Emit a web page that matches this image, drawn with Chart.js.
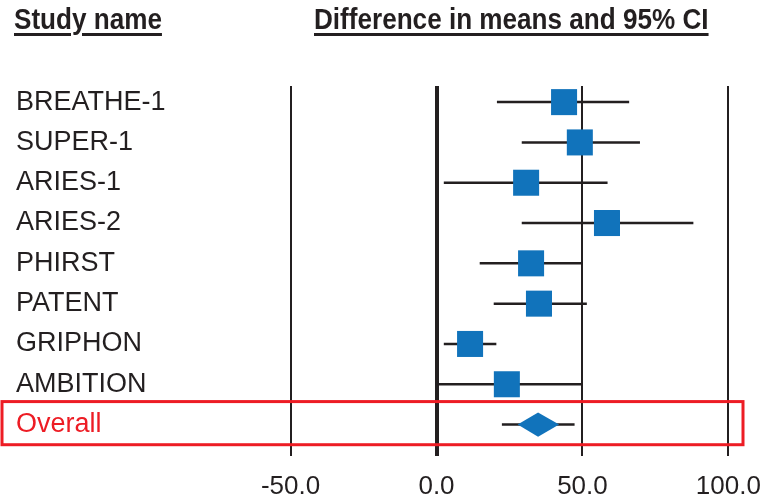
<!DOCTYPE html>
<html>
<head>
<meta charset="utf-8">
<script src="https://cdn.jsdelivr.net/npm/chart.js@4"></script>
<style>
  html, body { margin: 0; padding: 0; background: #fff; }
  #wrap { position: relative; width: 766px; height: 502px; overflow: hidden; }
  .head {
    position: absolute; top: 3px;
    font-family: 'Liberation Sans Narrow', 'Arial Narrow', 'Liberation Sans', Arial, sans-serif;
    font-weight: bold; font-size: 29px; line-height: 32px; color: #231f20;
    text-decoration: underline; text-decoration-thickness: 2.5px; text-underline-offset: 4px;
    white-space: nowrap;
    transform: scaleX(0.9); transform-origin: left top;
  }
</style>
</head>
<body>
<div id="wrap">
  <canvas id="forest" width="766" height="502"></canvas>
  <div class="head" style="left:14px">Study name</div>
  <div class="head" style="left:314px">Difference in means and 95% CI</div>
</div>
<script>
const studies = ['BREATHE-1', 'SUPER-1', 'ARIES-1', 'ARIES-2', 'PHIRST', 'PATENT', 'GRIPHON', 'AMBITION'];
const means = [43.7, 49.1, 30.7, 58.4, 32.4, 35.1, 11.5, 24.1];
const lower = [20.7, 29.2, 2.5, 29.2, 14.8, 19.6, 2.5, 0.6];
const upper = [66.0, 69.7, 58.6, 88.0, 50.0, 51.5, 20.5, 50.0];

const overallLabel = 'Overall';
const overallMean = 34.8;
const overallCI = [27.8, 42.0];   // diamond
const overallPI = [22.4, 47.3];   // thin line through the diamond

const xTicks = [-50, 0, 50, 100];

const rowLabels = studies.concat([overallLabel]);
const overallRow = studies.length;

const dark = '#231f20';
const blue = '#1173bb';
const red = '#ed1c24';
const font = "'Liberation Sans Narrow', 'Arial Narrow', 'Liberation Sans', Arial, sans-serif";

// whiskers, one segment per row, split by null points
const whiskers = [];
studies.forEach((s, i) => {
  whiskers.push({x: lower[i], y: i}, {x: upper[i], y: i}, {x: null, y: null});
});
whiskers.push({x: overallPI[0], y: overallRow}, {x: overallPI[1], y: overallRow});

const squares = means.map((m, i) => ({x: m, y: i}));

const dh = 0.3; // half height of the diamond, in rows
const diamond = [
  {x: overallCI[0], y: overallRow},
  {x: overallMean, y: overallRow - dh},
  {x: overallCI[1], y: overallRow},
  {x: overallMean, y: overallRow + dh},
  {x: overallCI[0], y: overallRow}
];

// red frame round the overall row
const overallBox = {
  id: 'overallBox',
  afterDatasetsDraw(chart) {
    const {ctx, scales: {x, y}} = chart;
    const top = y.getPixelForValue(overallRow - 0.57);
    const bottom = y.getPixelForValue(overallRow + 0.5);
    const right = x.getPixelForValue(105);
    ctx.save();
    ctx.strokeStyle = red;
    ctx.lineWidth = 3;
    ctx.strokeRect(2, top, right - 2, bottom - top);
    ctx.restore();
  }
};

Chart.defaults.font.family = font;
Chart.defaults.color = dark;

new Chart(document.getElementById('forest'), {
  type: 'line',
  data: {
    datasets: [
      {
        label: 'Studies',
        type: 'scatter',
        data: squares,
        pointStyle: 'rect',
        pointRadius: 18.4,
        pointHoverRadius: 18.4,
        backgroundColor: blue,
        borderWidth: 0,
        order: 1
      },
      {
        label: 'Overall',
        data: diamond,
        borderWidth: 0,
        borderColor: blue,
        backgroundColor: blue,
        pointRadius: 0,
        fill: 'shape',
        tension: 0,
        order: 2
      },
      {
        label: 'CI',
        data: whiskers,
        borderColor: dark,
        borderWidth: 2.5,
        pointRadius: 0,
        spanGaps: false,
        fill: false,
        tension: 0,
        order: 3
      }
    ]
  },
  options: {
    responsive: false,
    animation: false,
    layout: { padding: { left: 16, right: 23, top: 86, bottom: 0 } },
    plugins: { legend: { display: false }, tooltip: { enabled: false } },
    scales: {
      x: {
        type: 'linear',
        min: -91.3,
        max: 105,
        afterBuildTicks: s => { s.ticks = xTicks.map(v => ({value: v})); },
        afterFit: s => { s.height = 46; s.paddingLeft = 0; s.paddingRight = 0; },
        border: { display: false },
        grid: {
          drawTicks: false,
          color: dark,
          lineWidth: c => (c.tick && c.tick.value === 0 ? 4 : 2)
        },
        ticks: {
          padding: 15,
          font: { size: 26 },
          color: dark,
          callback: v => v.toFixed(1)
        }
      },
      y: {
        type: 'linear',
        reverse: true,
        min: -0.4,
        max: 8.78,
        afterBuildTicks: s => { s.ticks = rowLabels.map((l, i) => ({value: i})); },
        afterFit: s => { s.width = 154; },
        border: { display: false },
        grid: { display: false, drawTicks: false },
        ticks: {
          crossAlign: 'far',
          padding: 0,
          font: { size: 27 },
          color: c => (c.index === overallRow ? red : dark),
          callback: v => rowLabels[v]
        }
      }
    }
  },
  plugins: [overallBox]
});
</script>
</body>
</html>
